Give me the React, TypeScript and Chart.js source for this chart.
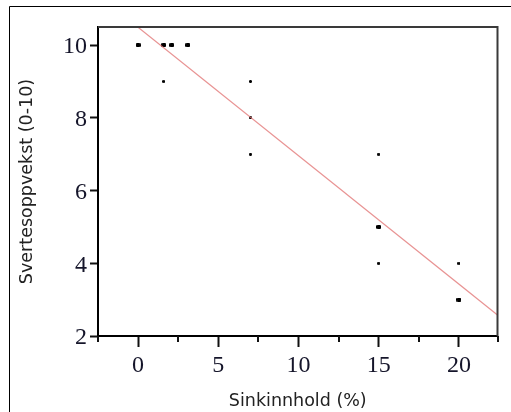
import React, { useEffect, useRef } from 'react';
import { Chart, registerables } from 'chart.js';

Chart.register(...registerables);

// Observations: zinc content (%) vs. blackening score (0-10)
const zinc = [0, 1.6, 2.1, 3.1, 1.6, 7, 7, 7, 15, 15, 15, 20, 20];
const score = [10, 10, 10, 10, 9, 9, 8, 7, 7, 5, 4, 4, 3];
// how many observations sit on each mark (overlapping points look wider)
const overlap = [2, 2, 2, 2, 1, 1, 1, 1, 1, 2, 1, 1, 2];

// fitted regression line end points
const fitX = [0, 22.4];
const fitY = [10.49, 2.58];

const xMajorTicks = [0, 5, 10, 15, 20];
const xMinorTicks = [-2.5, 2.5, 7.5, 12.5, 17.5, 22.5];
const yTicks = [2, 4, 6, 8, 10];

const xTitle = 'Sinkinnhold (%)';
const yTitle = 'Svertesoppvekst (0-10)';

function makeDot(w: number, h: number): HTMLCanvasElement {
  const c = document.createElement('canvas');
  c.width = w;
  c.height = h;
  const g = c.getContext('2d')!;
  g.fillStyle = 'rgba(0,0,0,0.6)';
  g.fillRect(0, 0, w, h);
  g.fillStyle = '#000';
  g.fillRect(1, 0, w - 2, h);
  g.fillRect(0, 1, w, h - 2);
  return c;
}

const decorPlugin = {
  id: 'decor',
  beforeDraw(chart: any) {
    const ctx = chart.ctx;
    ctx.save();
    ctx.fillStyle = '#fff';
    ctx.fillRect(0, 0, chart.width, chart.height);
    // outer frame
    ctx.strokeStyle = '#000';
    ctx.lineWidth = 1;
    ctx.beginPath();
    ctx.moveTo(9.5, chart.height);
    ctx.lineTo(9.5, 6.5);
    ctx.lineTo(chart.width, 6.5);
    ctx.stroke();
    ctx.restore();
  },
  afterDraw(chart: any) {
    const ctx = chart.ctx;
    const a = chart.chartArea;
    const xs = chart.scales.x;
    ctx.save();
    // top and right frame of the plot box
    ctx.strokeStyle = '#3a3a3a';
    ctx.lineWidth = 2;
    ctx.beginPath();
    ctx.moveTo(a.left, a.top);
    ctx.lineTo(a.right, a.top);
    ctx.lineTo(a.right, a.bottom);
    ctx.stroke();
    // minor x ticks
    ctx.strokeStyle = '#111';
    ctx.lineWidth = 2;
    ctx.beginPath();
    xMinorTicks.forEach((v) => {
      let px = xs.getPixelForValue(v);
      px = Math.max(a.left, Math.min(a.right, px));
      ctx.moveTo(Math.round(px), a.bottom);
      ctx.lineTo(Math.round(px), a.bottom + 6);
    });
    ctx.stroke();
    ctx.restore();
  },
};

export default function App() {
  const ref = useRef<HTMLCanvasElement | null>(null);

  useEffect(() => {
    if (!ref.current) return;
    const small = makeDot(3, 3);
    const wide = makeDot(5, 4);
    const chart = new Chart(ref.current, {
      type: 'scatter',
      data: {
        datasets: [
          {
            type: 'line',
            data: fitX.map((x, i) => ({ x, y: fitY[i] })),
            borderColor: 'rgba(226,120,120,0.8)',
            borderWidth: 1.3,
            pointRadius: 0,
            fill: false,
          } as any,
          {
            data: zinc.map((x, i) => ({ x, y: score[i] })),
            pointRadius: 2,
            pointStyle: (c: any) => (overlap[c.dataIndex] > 1 ? wide : small),
            backgroundColor: '#000',
            borderColor: '#000',
          } as any,
        ],
      },
      options: {
        responsive: false,
        animation: false,
        devicePixelRatio: 1,
        layout: { padding: { top: 27, right: 13.5, left: 0, bottom: 0 } },
        plugins: { legend: { display: false }, tooltip: { enabled: false } },
        scales: {
          x: {
            type: 'linear',
            min: -2.5,
            max: 22.4,
            afterFit: (s: any) => {
              s.height = 76;
            },
            afterBuildTicks: (s: any) => {
              s.ticks = xMajorTicks.map((v) => ({ value: v }));
            },
            grid: {
              drawOnChartArea: false,
              drawTicks: true,
              tickLength: 11,
              tickWidth: 2,
              tickColor: '#111',
            },
            border: { display: true, width: 2, color: '#000' },
            ticks: {
              padding: 4,
              maxRotation: 0,
              autoSkip: false,
              color: '#15152a',
              font: { family: '"Liberation Serif", "Times New Roman", serif', size: 24 },
            },
            title: {
              display: true,
              text: xTitle,
              color: '#222',
              padding: { top: 0, bottom: 0 },
              font: { family: '"DejaVu Sans", sans-serif', size: 17.5 },
            },
          },
          y: {
            type: 'linear',
            min: 2,
            max: 10.5,
            afterFit: (s: any) => {
              s.width = 98;
            },
            afterBuildTicks: (s: any) => {
              s.ticks = yTicks.map((v) => ({ value: v }));
            },
            grid: {
              drawOnChartArea: false,
              drawTicks: true,
              tickLength: 8,
              tickWidth: 2,
              tickColor: '#111',
            },
            border: { display: true, width: 2, color: '#000' },
            ticks: {
              padding: 3,
              labelOffset: 2,
              autoSkip: false,
              color: '#15152a',
              font: { family: '"Liberation Serif", "Times New Roman", serif', size: 24 },
            },
            title: {
              display: true,
              text: yTitle,
              color: '#222',
              padding: { top: 16.5, bottom: 0 },
              font: { family: '"DejaVu Sans", sans-serif', size: 17.5 },
            },
          },
        },
      },
      plugins: [decorPlugin],
    });
    return () => chart.destroy();
  }, []);

  return (
    <div style={{ position: 'absolute', left: 0, top: 0, width: 511, height: 412, background: '#fff', overflow: 'hidden' }}>
      <canvas ref={ref} width={511} height={412} style={{ display: 'block' }} />
    </div>
  );
}
